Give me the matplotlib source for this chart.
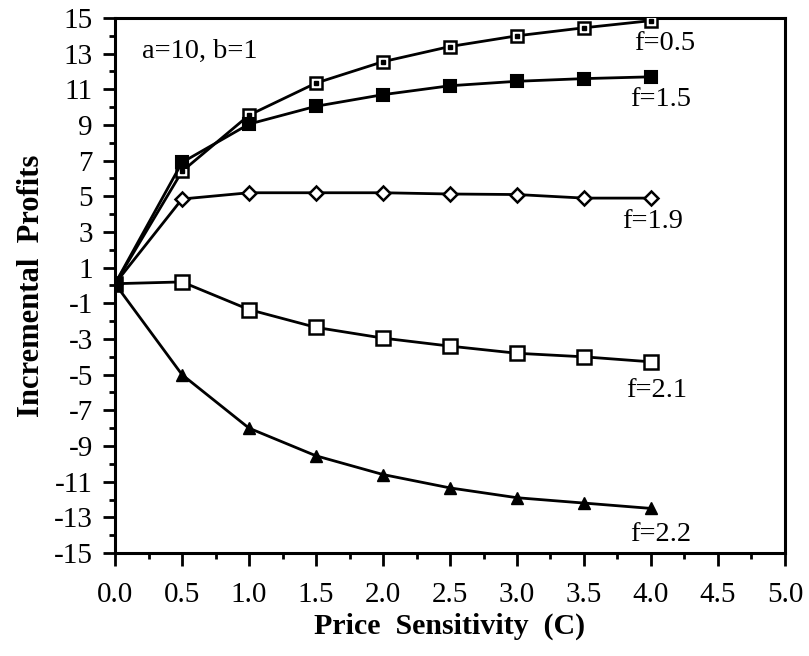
import numpy as np
import matplotlib
matplotlib.use("Agg")
import matplotlib.pyplot as plt
from matplotlib.ticker import MultipleLocator, FormatStrFormatter

# =====================================================
# DATA
# =====================================================

price_c = [0.0, 0.5, 1.0, 1.5, 2.0, 2.5, 3.0, 3.5, 4.0]

f05 = [0.1, 6.4, 9.55, 11.35, 12.55, 13.4, 14.0, 14.45, 14.85]
f15 = [0.1, 6.9, 9.05, 10.05, 10.7, 11.2, 11.45, 11.6, 11.7]
f19 = [0.1, 4.85, 5.2, 5.2, 5.2, 5.13, 5.1, 4.9, 4.9]
f21 = [0.1, 0.2, -1.35, -2.35, -2.95, -3.4, -3.8, -4.0, -4.28]
f22 = [0.1, -5.0, -8.0, -9.55, -10.6, -11.35, -11.9, -12.2, -12.5]

series_labels = ["f=0.5", "f=1.5", "f=1.9", "f=2.1", "f=2.2"]
label_pos = [(4.10, 13.55), (4.07, 10.45), (4.01, 3.6), (4.04, -5.9), (4.07, -13.95)]

# =====================================================
# FIGURE
# =====================================================

plt.rcParams["font.family"] = ["Liberation Serif", "DejaVu Serif"]
plt.rcParams["axes.unicode_minus"] = False

fig = plt.figure(figsize=(8.09, 6.56), dpi=100)
ax = fig.add_axes([0.1422, 0.157, 0.8281, 0.8156])

lw = 2.0
ax.plot(price_c, f05, color="black", lw=lw, marker="s", ms=9,
        mfc="white", mec="black", mew=1.8, zorder=3)
ax.plot(price_c, f05, ls="none", marker="s", ms=2.5, color="black", zorder=4)

ax.plot(price_c, f15, color="black", lw=lw, marker="s", ms=9,
        mfc="black", mec="black", mew=1.5, zorder=5)

ax.plot(price_c, f19, color="black", lw=lw, marker="D", ms=7,
        mfc="white", mec="black", mew=1.8, zorder=3)

ax.plot(price_c, f21, color="black", lw=lw, marker="s", ms=10,
        mfc="white", mec="black", mew=1.8, zorder=3)

ax.plot(price_c, f22, color="black", lw=lw, marker="^", ms=9,
        mfc="black", mec="black", zorder=3)

# common start point drawn as a filled square
ax.plot([price_c[0]], [f15[0]], ls="none", marker="s", ms=10,
        color="black", zorder=6)

for lab, (lx, ly) in zip(series_labels, label_pos):
    ax.text(lx, ly, lab, fontsize=20.5, ha="center", va="center")

ax.text(0.2, 13.1, "a=10, b=1", fontsize=20.5, ha="left", va="center")

# =====================================================
# AXES
# =====================================================

ax.set_xlim(0, 5)
ax.set_ylim(-15, 15)

ax.xaxis.set_major_locator(MultipleLocator(0.5))
ax.xaxis.set_minor_locator(MultipleLocator(0.25))
ax.xaxis.set_major_formatter(FormatStrFormatter("%.1f"))

ax.set_yticks(np.arange(-15, 16, 2))
ax.yaxis.set_minor_locator(MultipleLocator(1))

ax.tick_params(axis="both", which="major", direction="out", length=9,
               width=2, labelsize=21, color="black")
ax.tick_params(axis="both", which="minor", direction="out", length=4.5,
               width=2)
ax.tick_params(axis="x", which="major", pad=12)
ax.tick_params(axis="y", which="major", pad=7)

for sp in ax.spines.values():
    sp.set_linewidth(2.2)

ax.set_xlabel("Price  Sensitivity  (C)", fontsize=21.5, fontweight="bold")
ax.set_ylabel("Incremental  Profits", fontsize=22, fontweight="bold")
ax.xaxis.set_label_coords(0.5, -0.112)
ax.yaxis.set_label_coords(-0.103, 0.5)

plt.savefig("out.png", dpi=100)
plt.close()

print("Saved out.png")
